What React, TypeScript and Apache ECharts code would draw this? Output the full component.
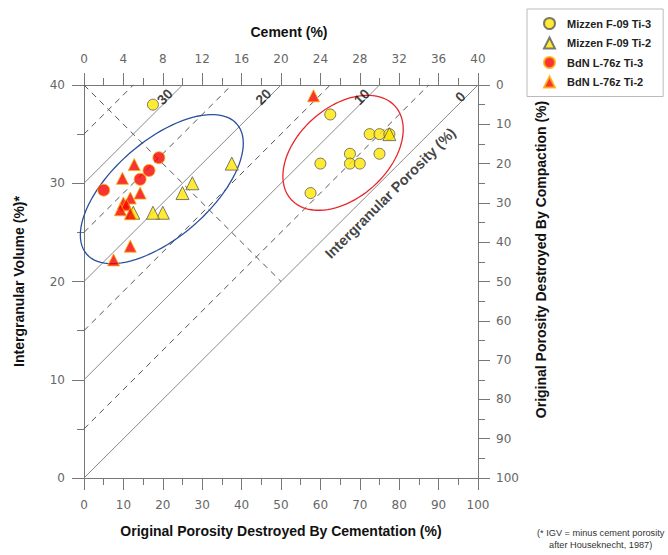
import React, { useEffect, useRef } from "react";
import * as echarts from "echarts";

// ---- data (cement %, intergranular volume %) ----
const seriesNames = ["Mizzen F-09 Ti-3", "Mizzen F-09 Ti-2", "BdN L-76z Ti-3", "BdN L-76z Ti-2"];
const mizzenTi3 = [[7, 38], [25, 37], [29, 35], [30, 35], [31, 35], [27, 33], [30, 33], [24, 32], [27, 32], [28, 32], [23, 29]];
const mizzenTi2 = [[15, 32], [11, 30], [10, 29], [8, 27], [7, 27], [5, 27], [31, 35]];
const bdnTi3 = [[7.6, 32.6], [6.6, 31.3], [5.7, 30.4], [2, 29.3]];
const bdnTi2 = [[5.1, 31.9], [3.9, 30.5], [5.7, 29], [4.7, 28.5], [4, 28], [4.3, 27.8], [3.7, 27.3], [4.7, 26.9], [4.7, 23.6], [3, 22.2], [23.3, 38.9]];

// intergranular porosity iso-lines (IGV - cement = porosity)
const porositySolid = [0, 10, 20, 30];
const porosityDashed = [5, 15, 25, 35];
const porosityLabels = [30, 20, 10, 0];
const maxIGV = 40;
// compaction = cementation divide line
const divideLine = [[0, 40], [20, 20]];

// grouping ellipses (centre, semi-axes, angle in degrees)
const ellipseCenters = [[7.9, 29.4], [26.3, 33.1]];
const ellipseAxes = [[10.1, 4.9], [7.1, 4.6]];
const ellipseAngles = [41, 42];
const ellipseColors = ["#2a4f9b", "#e8262a"];

const footnote = "(* IGV = minus cement porosity\nafter Houseknecht, 1987)";

const axisColor = "#777";
const labelStyle = { color: "#666", fontFamily: "DejaVu Sans", fontSize: 12 };
const nameStyle = { color: "#111", fontFamily: "Liberation Sans", fontSize: 14, fontWeight: "bold" as const };

function axisCommon() {
  return {
    type: "value" as const,
    axisLine: { show: true, onZero: false, lineStyle: { color: axisColor, width: 1 } },
    axisTick: { show: true, length: 12, lineStyle: { color: axisColor } },
    minorTick: { show: true, splitNumber: 2, length: 7, lineStyle: { color: axisColor } },
    splitLine: { show: false },
    minorSplitLine: { show: false },
  };
}

export default function App() {
  const ref = useRef<HTMLDivElement>(null);
  useEffect(() => {
    if (!ref.current) return;
    const chart = echarts.init(ref.current, undefined, { renderer: "svg" });

    const lineSeries: any[] = [];
    porositySolid.forEach((p) => {
      lineSeries.push({
        type: "line", xAxisIndex: 1, yAxisIndex: 0, silent: true, symbol: "none", z: 1,
        data: [[0, p], [maxIGV - p, maxIGV]],
        lineStyle: { color: "#8a8a8a", width: 1 },
      });
    });
    porosityDashed.forEach((p) => {
      lineSeries.push({
        type: "line", xAxisIndex: 1, yAxisIndex: 0, silent: true, symbol: "none", z: 1,
        data: [[0, p], [maxIGV - p, maxIGV]],
        lineStyle: { color: "#555", width: 1, type: [6, 5] },
      });
    });
    lineSeries.push({
      type: "line", xAxisIndex: 1, yAxisIndex: 0, silent: true, symbol: "none", z: 1,
      data: divideLine,
      lineStyle: { color: "#555", width: 1, type: [6, 5] },
    });

    const ellipseSeries = {
      type: "custom", xAxisIndex: 1, yAxisIndex: 0, silent: true, z: 2,
      data: ellipseCenters.map((c) => [c[0], c[1]]),
      renderItem: (params: any, api: any) => {
        const i = params.dataIndex;
        const cx = api.value(0), cy = api.value(1);
        const [a, b] = ellipseAxes[i];
        const th = (ellipseAngles[i] * Math.PI) / 180;
        const pts: number[][] = [];
        for (let k = 0; k <= 96; k++) {
          const t = (k / 96) * Math.PI * 2;
          const dx = a * Math.cos(t), dy = b * Math.sin(t);
          pts.push(api.coord([cx + dx * Math.cos(th) - dy * Math.sin(th), cy + dx * Math.sin(th) + dy * Math.cos(th)]));
        }
        return { type: "polyline", shape: { points: pts }, style: { fill: "none", stroke: ellipseColors[i], lineWidth: 1.3 } };
      },
    };

    const textSeries = {
      type: "scatter", xAxisIndex: 1, yAxisIndex: 0, silent: true, symbolSize: 0, z: 3, clip: false,
      data: [
        ...porosityLabels.map((p) => ({ value: [maxIGV - p - 1.8, 38.8], name: String(p), label: { fontSize: 14 } })),
        { value: [31.1, 29.0], name: "Intergranular Porosity (%)", label: { fontSize: 14.5 } },
      ],
      label: {
        show: true, position: "inside", rotate: 45, formatter: (p: any) => p.name,
        color: "#111", fontFamily: "Liberation Sans", fontWeight: "bold",
      },
    };

    const pointSeries = [
      { name: seriesNames[0], data: mizzenTi3, symbol: "circle", symbolSize: 11, itemStyle: { color: "#ffe600", borderColor: "#5a5a5a", borderWidth: 1 } },
      { name: seriesNames[1], data: mizzenTi2, symbol: "triangle", symbolSize: 13, itemStyle: { color: "#ffe600", borderColor: "#5a5a5a", borderWidth: 1 } },
      { name: seriesNames[2], data: bdnTi3, symbol: "circle", symbolSize: 12, itemStyle: { color: "#f50000", borderColor: "#ffae00", borderWidth: 1 } },
      { name: seriesNames[3], data: bdnTi2, symbol: "triangle", symbolSize: 12, itemStyle: { color: "#f50000", borderColor: "#ffae00", borderWidth: 1 } },
    ].map((s) => ({ ...s, type: "scatter", xAxisIndex: 1, yAxisIndex: 0, z: 4 }));

    chart.setOption({
      animation: false,
      backgroundColor: "#fff",
      grid: { left: 84, top: 85, right: 190, bottom: 77, containLabel: false },
      legend: {
        data: seriesNames,
        orient: "vertical",
        left: 527,
        top: 9,
        padding: [8, 12, 8, 16],
        itemGap: 6.5,
        itemWidth: 11,
        itemHeight: 11,
        borderColor: "#bbb",
        borderWidth: 1,
        textStyle: { color: "#222", fontFamily: "Liberation Sans", fontSize: 11, fontWeight: "bold", padding: [0, 0, 0, 7] },
      },
      xAxis: [
        {
          ...axisCommon(), position: "bottom", min: 0, max: 100, interval: 10,
          name: "Original Porosity Destroyed By Cementation (%)", nameLocation: "middle", nameGap: 46, nameTextStyle: nameStyle,
          axisLabel: { ...labelStyle, margin: 21 },
        },
        {
          ...axisCommon(), position: "top", min: 0, max: 40, interval: 4,
          name: "Cement (%)", nameLocation: "middle", nameGap: 46, nameTextStyle: { ...nameStyle, padding: [0, 0, 0, 16] },
          axisLabel: { ...labelStyle, margin: 20 },
        },
      ],
      yAxis: [
        {
          ...axisCommon(), position: "left", min: 0, max: 40, interval: 10,
          name: "Intergranular Volume (%)*", nameLocation: "middle", nameGap: 58, nameRotate: 90, nameTextStyle: nameStyle,
          axisLabel: { ...labelStyle, margin: 19 },
        },
        {
          ...axisCommon(), position: "right", min: 0, max: 100, interval: 10, inverse: true,
          name: "Original Porosity Destroyed By Compaction (%)", nameLocation: "middle", nameGap: 56, nameRotate: 90,
          nameTextStyle: { ...nameStyle, padding: [0, 0, 0, 44] },
          axisLabel: { ...labelStyle, margin: 18 },
        },
      ],
      graphic: [
        {
          type: "text", left: 602 - 65, top: 527,
          style: { text: footnote, x: 65, textAlign: "center", fill: "#333", font: "9.2px 'Liberation Sans'", lineHeight: 12 },
        },
      ],
      series: [...lineSeries, ellipseSeries, textSeries, ...pointSeries],
    });
    return () => chart.dispose();
  }, []);
  return <div ref={ref} style={{ position: "fixed", left: 0, top: 0, width: 668, height: 555 }} />;
}
